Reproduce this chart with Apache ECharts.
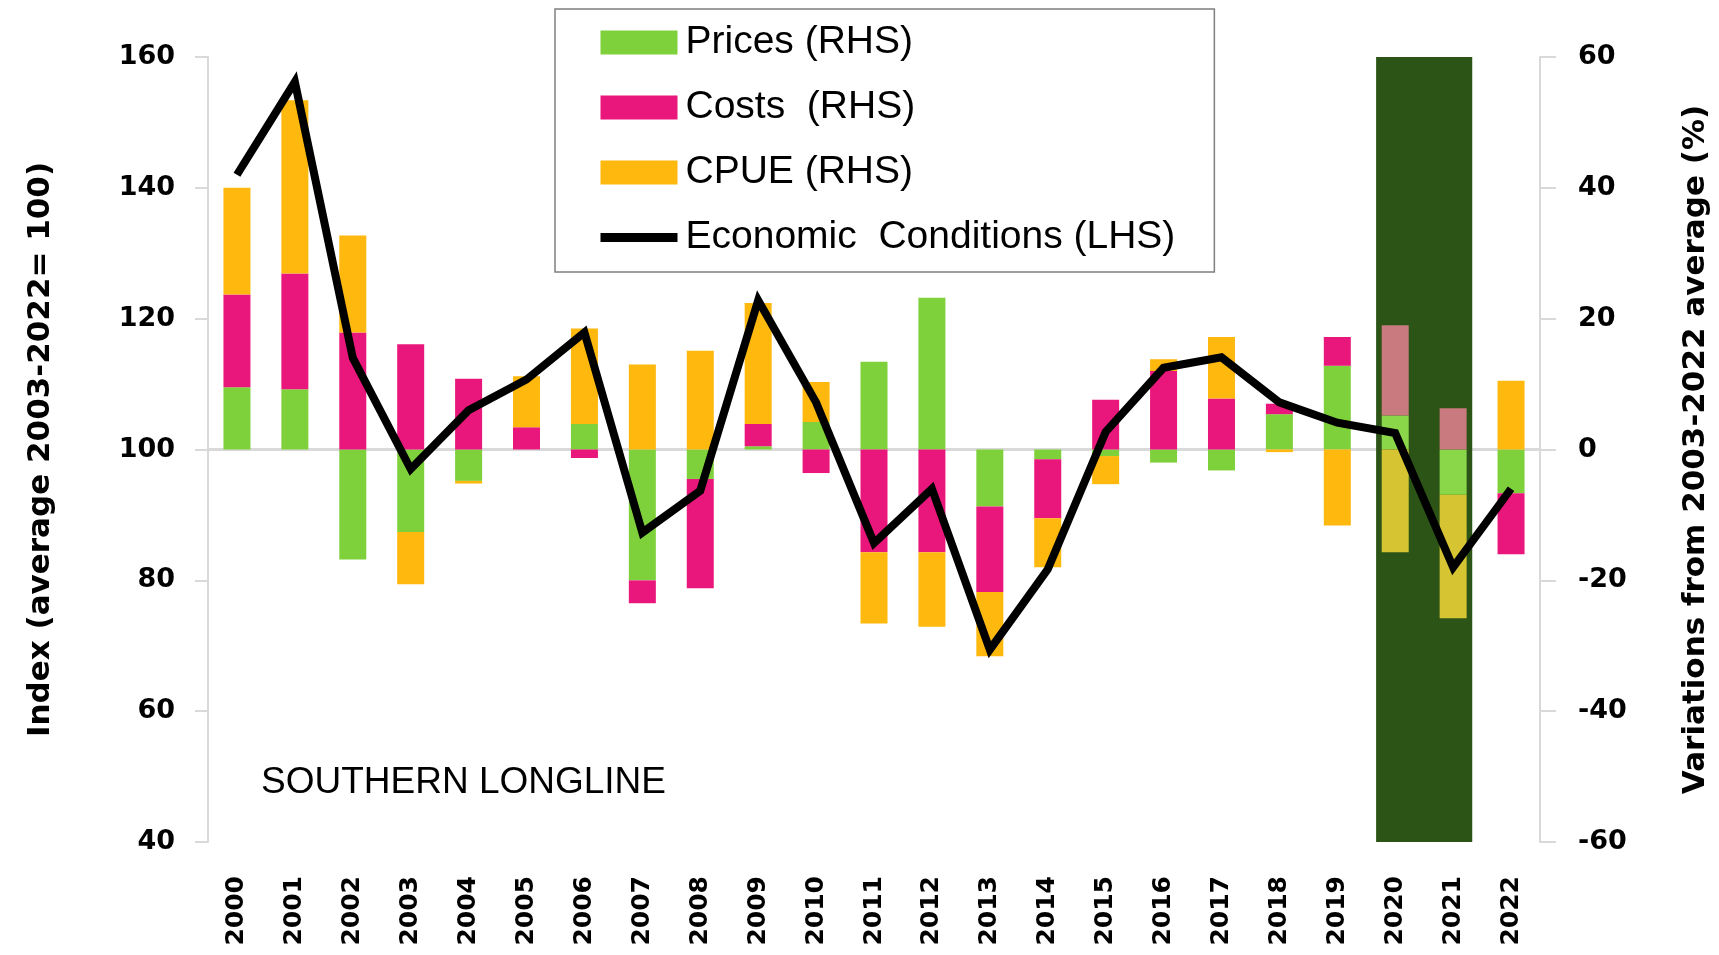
<!DOCTYPE html>
<html>
<head>
<meta charset="utf-8">
<title>Southern longline</title>
<script src="https://cdn.jsdelivr.net/npm/echarts@6.0.0/dist/echarts.min.js"></script>
<style>
  html, body { margin: 0; padding: 0; background: #fff; }
  #chart { width: 1719px; height: 955px; }
</style>
</head>
<body>
<div id="chart"></div>
<script>
// data
const years = ['2000', '2001', '2002', '2003', '2004', '2005', '2006', '2007', '2008', '2009', '2010',
  '2011', '2012', '2013', '2014', '2015', '2016', '2017', '2018', '2019', '2020', '2021', '2022']
// RHS, % variation from 2003-2022 average
const prices = [9.5, 9.2, -16.8, -12.6, -4.8, 0, 3.9, -20.0, -4.5, 0.5, 4.2, 13.4, 23.2, -8.7, -1.5, -1.0, -2.0, -3.2, 5.4, 12.8, 5.2, -6.9, -6.7]
const costs = [14.2, 17.7, 17.9, 16.1, 10.8, 3.4, -1.3, -3.5, -16.7, 3.4, -3.6, -15.7, -15.7, -13.1, -9.0, 7.6, 12.0, 7.8, 1.6, 4.4, 13.8, 6.3, -9.3]
const cpue = [16.3, 26.5, 14.8, -8.0, -0.4, 7.8, 14.6, 13.0, 15.1, 18.5, 6.1, -10.9, -11.4, -9.8, -7.5, -4.3, 1.8, 9.4, -0.4, -11.6, -15.7, -18.9, 10.5]
// LHS, index
const econ = [142, 156.2, 114, 97, 106, 110.7, 117.9, 87.3, 93.7, 122.8, 107.2, 85.7, 94, 69.4, 81.7, 102.7, 112.5, 114.1, 107.2, 104.1, 102.5, 82, 94]
// shaded period (in category units) and its vertical extent on the RHS axis
const shadedYears = ['2020', '2021']
const shadeSpan = [20.17, 21.83]
const shadeRange = [60.6, -60]

const names = ['Prices (RHS)', 'Costs  (RHS)', 'CPUE (RHS)', 'Economic  Conditions (LHS)']
const colors = ['#7fd13b', '#e9177b', '#ffb80e']
const shadedColors = ['#8ad84a', '#c97a7e', '#d6c432']

const tickFont = { fontFamily: 'DejaVu Sans', fontWeight: 'bold', color: '#000' }
const axisGrey = '#d9d9d9'

function barSeries(idx, values) {
  return {
    name: names[idx],
    type: 'bar',
    stack: 'rhs',
    yAxisIndex: 1,
    barWidth: 27,
    z: 2,
    itemStyle: { color: colors[idx] },
    data: values.map((v, i) => shadedYears.indexOf(years[i]) > -1
      ? { value: v, itemStyle: { color: shadedColors[idx] } }
      : v)
  }
}

const chart = echarts.init(document.getElementById('chart'))
chart.setOption({
  animation: false,
  backgroundColor: '#fff',
  grid: { left: 208, right: 179, top: 57, bottom: 113 },
  legend: {
    orient: 'vertical',
    left: 555,
    top: 9,
    padding: [14, 39, 15, 41],
    itemWidth: 77,
    itemHeight: 24,
    itemGap: 26,
    borderColor: '#7f7f7f',
    borderWidth: 1.5,
    textStyle: { fontFamily: 'Liberation Sans', fontSize: 39, color: '#000', lineHeight: 24, padding: [0, 0, 0, 3] },
    data: [
      { name: names[0], icon: 'rect' },
      { name: names[1], icon: 'rect' },
      { name: names[2], icon: 'rect' },
      { name: names[3], itemStyle: { opacity: 0 }, lineStyle: { width: 9, color: '#000' } }
    ]
  },
  graphic: [{
    type: 'text',
    left: 261,
    top: 764,
    style: { text: 'SOUTHERN LONGLINE', font: '37px "Liberation Sans"', fill: '#000' }
  }],
  xAxis: [{
    type: 'category',
    data: years,
    axisLine: { lineStyle: { color: axisGrey, width: 3 } },
    axisTick: { length: 22, lineStyle: { color: axisGrey, width: 2 } },
    axisLabel: Object.assign({ rotate: 90, fontSize: 25, margin: 34, interval: 0 }, tickFont)
  }, {
    type: 'value',
    min: 0,
    max: 23,
    show: false
  }],
  yAxis: [{
    type: 'value',
    position: 'left',
    min: 40,
    max: 160,
    interval: 20,
    name: 'Index (average 2003-2022= 100)',
    nameLocation: 'middle',
    nameRotate: 90,
    nameGap: 152,
    nameTextStyle: { fontFamily: 'DejaVu Sans', fontWeight: 'bold', fontSize: 31, color: '#000' },
    axisLine: { show: true, lineStyle: { color: axisGrey, width: 2 } },
    axisTick: { show: true, length: 13, lineStyle: { color: axisGrey, width: 2 } },
    axisLabel: Object.assign({ fontSize: 27, margin: 33 }, tickFont),
    splitLine: { show: false }
  }, {
    type: 'value',
    position: 'right',
    min: -60,
    max: 60,
    interval: 20,
    name: 'Variations from 2003-2022 average (%)',
    nameLocation: 'middle',
    nameRotate: 90,
    nameGap: 140,
    nameTextStyle: { fontFamily: 'DejaVu Sans', fontWeight: 'bold', fontSize: 31, color: '#000' },
    axisLine: { show: true, lineStyle: { color: axisGrey, width: 2 } },
    axisTick: { show: true, length: 16, lineStyle: { color: axisGrey, width: 2 } },
    axisLabel: Object.assign({ fontSize: 27, margin: 38 }, tickFont),
    splitLine: { show: false }
  }],
  series: [
    barSeries(0, prices),
    barSeries(1, costs),
    barSeries(2, cpue),
    {
      name: names[3],
      type: 'line',
      yAxisIndex: 0,
      symbol: 'none',
      z: 5,
      lineStyle: { color: '#000', width: 8, join: 'miter' },
      itemStyle: { color: '#000' },
      data: econ
    },
    {
      name: 'shade',
      type: 'line',
      xAxisIndex: 1,
      yAxisIndex: 1,
      data: [],
      markArea: {
        silent: true,
        z: 1,
        itemStyle: { color: '#2c5416' },
        data: [[{ coord: [shadeSpan[0], shadeRange[0]] }, { coord: [shadeSpan[1], shadeRange[1]] }]]
      }
    }
  ]
})
</script>
</body>
</html>
